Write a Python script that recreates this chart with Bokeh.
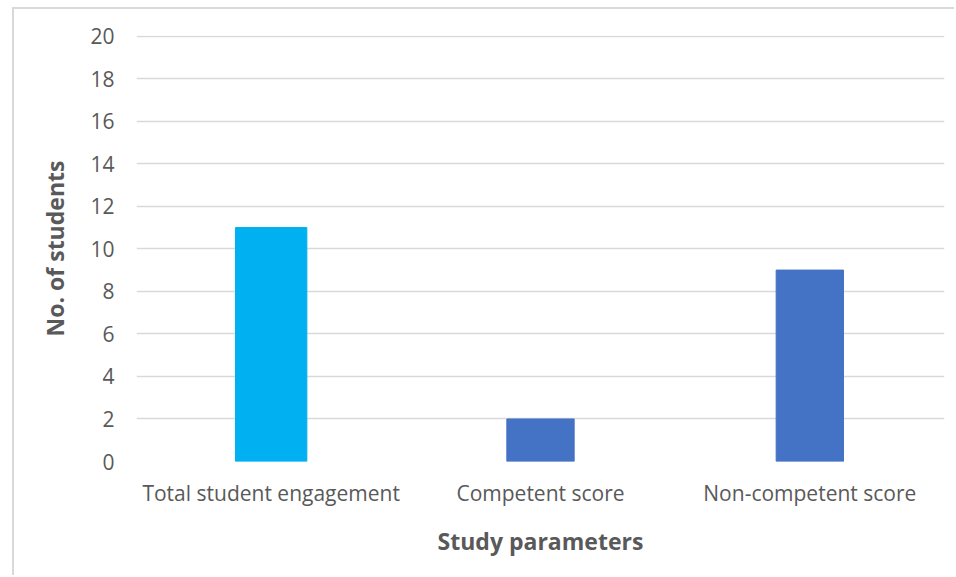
from bokeh.plotting import figure
from bokeh.models import ColumnDataSource, FixedTicker
from bokeh.embed import file_html
from bokeh.resources import INLINE

categories = ["Total student engagement", "Competent score", "Non-competent score"]
students = [11, 2, 9]
bar_colors = ["#00B0F0", "#4472C4", "#4472C4"]
bar_widths = [0.265, 0.25, 0.25]
y_ticks = [0, 2, 4, 6, 8, 10, 12, 14, 16, 18, 20]

source = ColumnDataSource(dict(cat=categories, n=students, color=bar_colors, w=bar_widths))

FONT = "Open Sans"
GREY = "#595959"

p = figure(
    x_range=categories, y_range=(0, 20.03),
    width=942, height=568,
    output_backend="svg", toolbar_location=None,
    min_border_left=122, min_border_right=12,
    min_border_top=26, min_border_bottom=116,
)
p.margin = (7, 0, 0, 12)
p.styles = {"border-top": "2px solid #d9d9d9", "border-left": "2px solid #d9d9d9"}

p.vbar(x="cat", top="n", width="w", color="color", source=source)

p.outline_line_color = None
p.background_fill_color = "white"
p.border_fill_color = "white"

p.xgrid.grid_line_color = None
p.ygrid.grid_line_color = "#d9d9d9"
p.ygrid.grid_line_width = 1.5
p.ygrid.ticker = FixedTicker(ticks=y_ticks)

p.yaxis.ticker = FixedTicker(ticks=y_ticks)
p.yaxis.axis_line_color = None
p.yaxis.major_tick_line_color = None
p.yaxis.minor_tick_line_color = None
p.yaxis.major_label_text_font = FONT
p.yaxis.major_label_text_font_size = "21px"
p.yaxis.major_label_text_color = GREY
p.yaxis.major_label_standoff = 16
p.yaxis.axis_label = "No. of students"
p.yaxis.axis_label_text_font = FONT
p.yaxis.axis_label_text_font_size = "23px"
p.yaxis.axis_label_text_font_style = "bold"
p.yaxis.axis_label_text_color = GREY
p.yaxis.axis_label_standoff = 16

p.xaxis.axis_line_color = None
p.xaxis.major_tick_line_color = None
p.xaxis.major_label_text_font = FONT
p.xaxis.major_label_text_font_size = "21px"
p.xaxis.major_label_text_color = GREY
p.xaxis.major_label_standoff = 11
p.xaxis.axis_label = "Study parameters"
p.xaxis.axis_label_text_font = FONT
p.xaxis.axis_label_text_font_size = "23px"
p.xaxis.axis_label_text_font_style = "bold"
p.xaxis.axis_label_text_color = GREY
p.xaxis.axis_label_standoff = 15

open("out.html", "w").write(file_html(p, INLINE))
